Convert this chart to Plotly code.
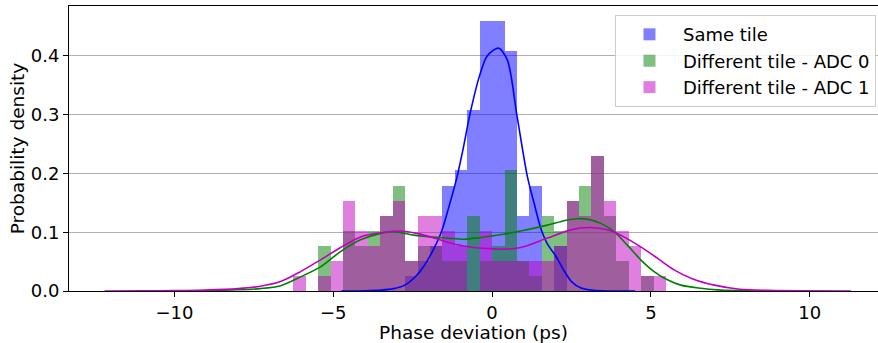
import numpy as np
import plotly.graph_objects as go

# Common histogram bin edges (ps)
bin_edges = [-6.256, -5.865, -5.474, -5.083, -4.692, -4.301, -3.910, -3.519, -3.128,
             -2.737, -2.346, -1.955, -1.564, -1.173, -0.782, -0.391, 0.0, 0.391,
             0.782, 1.173, 1.564, 1.955, 2.346, 2.737, 3.128, 3.519, 3.910, 4.301,
             4.692, 5.083, 5.474]

# Histogram densities per bin
same_tile = [0, 0, 0, 0, 0, 0, 0, 0, 0, 0.026, 0.051, 0.077, 0.179, 0.205, 0.307,
             0.460, 0.460, 0.409, 0.128, 0.179, 0, 0.077, 0, 0, 0, 0, 0, 0, 0, 0]
adc0 = [0, 0, 0.077, 0, 0.102, 0.077, 0.102, 0.128, 0.179, 0.051, 0.077, 0.077,
        0.051, 0.051, 0.128, 0.051, 0.077, 0.205, 0.051, 0.026, 0.128, 0.102,
        0.153, 0.179, 0.230, 0.128, 0.051, 0, 0.026, 0]
adc1 = [0.026, 0, 0.026, 0.051, 0.153, 0.102, 0.077, 0.128, 0.153, 0.051, 0.128,
        0.128, 0.102, 0.077, 0, 0.102, 0.051, 0.051, 0.051, 0.051, 0.051, 0.077,
        0.153, 0.128, 0.230, 0.153, 0.102, 0.077, 0.026, 0.026]

# KDE curves
kde_same_x = [-4.75, -4.0, -3.5, -3.1, -2.75, -2.4, -2.15, -1.9, -1.6, -1.35, -1.1,
              -0.9, -0.7, -0.4, -0.15, 0.2, 0.48, 0.79, 1.11, 1.32, 1.53, 1.74, 2.0,
              2.26, 2.5, 2.8, 3.2, 3.7, 4.5]
kde_same_y = [0.0, 0.0005, 0.0015, 0.004, 0.01, 0.025, 0.042, 0.065, 0.10, 0.145,
              0.195, 0.245, 0.300, 0.365, 0.400, 0.413, 0.393, 0.296, 0.195, 0.150,
              0.107, 0.080, 0.060, 0.035, 0.016, 0.005, 0.001, 0.0, 0.0]

kde_adc0_x = [-11.2, -10, -9, -8, -7.3, -6.66, -6.03, -5.4, -4.77, -4.14, -3.51, -3.09,
              -2.46, -1.94, -1.41, -0.89, -0.36, 0.3, 0.9, 1.74, 2.3, 2.68, 3.1, 3.42,
              3.84, 4.26, 4.68, 5.1, 5.52, 5.94, 6.5, 7.2, 8, 9, 10.1]
kde_adc0_y = [0.0, 0.0002, 0.0008, 0.002, 0.004, 0.009, 0.024, 0.041, 0.067, 0.087,
              0.098, 0.101, 0.095, 0.092, 0.090, 0.088, 0.091, 0.096, 0.102, 0.112,
              0.120, 0.123, 0.121, 0.115, 0.101, 0.078, 0.053, 0.033, 0.019, 0.010,
              0.005, 0.0015, 0.0003, 0.0, 0.0]

kde_adc1_x = [-12.2, -11, -10, -9, -8, -7.3, -6.66, -6.03, -5.4, -4.77, -4.14, -3.51,
              -2.88, -2.36, -1.83, -1.2, -0.57, -0.05, 0.27, 0.9, 1.74, 2.47, 3.1,
              3.63, 4.15, 4.68, 5.2, 5.73, 6.3, 7.0, 7.8, 8.7, 9.8, 11.3]
kde_adc1_y = [0.0, 0.0002, 0.0006, 0.0015, 0.004, 0.008, 0.016, 0.033, 0.053, 0.074,
              0.092, 0.099, 0.102, 0.098, 0.090, 0.080, 0.074, 0.072, 0.071, 0.074,
              0.090, 0.104, 0.108, 0.104, 0.092, 0.075, 0.056, 0.036, 0.021, 0.010,
              0.003, 0.001, 0.0002, 0.0]

labels = ["Same tile", "Different tile - ADC 0", "Different tile - ADC 1"]
fills = ["rgba(0,0,255,0.5)", "rgba(0,128,0,0.5)", "rgba(191,0,191,0.5)"]
lines = ["#0000ff", "#008000", "#bf00bf"]

edges = np.array(bin_edges)
widths = np.diff(edges)

fig = go.Figure()
for lab, vals, fc in zip(labels, [same_tile, adc0, adc1], fills):
    fig.add_trace(go.Bar(x=edges[:-1], y=vals, width=widths, offset=0,
                         name=lab, marker=dict(color=fc, line=dict(width=0))))

for xs, ys, lc in zip([kde_same_x, kde_adc0_x, kde_adc1_x],
                      [kde_same_y, kde_adc0_y, kde_adc1_y], lines):
    fig.add_trace(go.Scatter(x=xs, y=ys, mode="lines", showlegend=False,
                             line=dict(color=lc, width=1.6, shape="spline", smoothing=0.8),
                             hoverinfo="skip"))

fig.update_layout(
    width=878, height=343, autosize=False,
    margin=dict(l=69, r=0, t=6, b=52),
    plot_bgcolor="white", paper_bgcolor="white",
    barmode="overlay", bargap=0,
    font=dict(family="DejaVu Sans", size=18, color="black"),
    legend=dict(x=0.9975, y=0.968, xanchor="right", yanchor="top",
                bgcolor="rgba(255,255,255,0.85)", bordercolor="#cccccc",
                borderwidth=1, font=dict(size=18), traceorder="normal",
                itemwidth=57, tracegroupgap=0),
)
fig.update_xaxes(range=[-13.32, 12.15], tickvals=[-10, -5, 0, 5, 10],
                 showline=True, linecolor="black", linewidth=1, mirror=True,
                 ticks="outside", ticklen=5, tickcolor="black",
                 showgrid=False, zeroline=False,
                 title=dict(text="Phase deviation (ps)", font=dict(size=18.5), standoff=1))
fig.update_yaxes(range=[0, 0.4847], tickvals=[0, 0.1, 0.2, 0.3, 0.4], tickformat=".1f",
                 showline=True, linecolor="black", linewidth=1, mirror=False,
                 ticks="outside", ticklen=5, tickcolor="black",
                 showgrid=True, gridcolor="#b0b0b0", gridwidth=1, zeroline=False,
                 title=dict(text="Probability density", font=dict(size=18.5), standoff=1))

fig.write_html("out.html")
